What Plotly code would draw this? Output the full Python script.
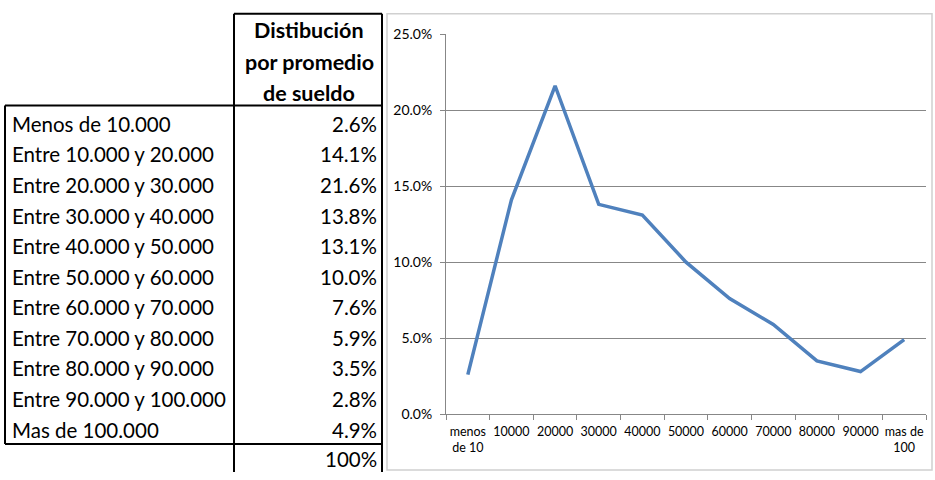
import plotly.graph_objects as go

# ---- data ----
row_labels = ["Menos de 10.000", "Entre 10.000 y 20.000", "Entre 20.000 y 30.000",
              "Entre 30.000 y 40.000", "Entre 40.000 y 50.000", "Entre 50.000 y 60.000",
              "Entre 60.000 y 70.000", "Entre 70.000 y 80.000", "Entre 80.000 y 90.000",
              "Entre 90.000 y 100.000", "Mas de 100.000"]
shares = [0.026, 0.141, 0.216, 0.138, 0.131, 0.100, 0.076, 0.059, 0.035, 0.028, 0.049]
x_labels = ["menos<br>de 10", "10000", "20000", "30000", "40000", "50000",
            "60000", "70000", "80000", "90000", "mas de<br>100"]
header_lines = ["Distibución", "por promedio", "de sueldo"]
total_label = "100%"

W, H = 935, 480
def px(x):
    return x / W
def py(y):
    return 1 - y / H

FAM = "Lato, Carlito, Calibri, sans-serif"

fig = go.Figure()
fig.add_trace(go.Scatter(
    x=x_labels, y=shares, mode="lines",
    line=dict(color="#4F81BD", width=3.5),
    hoverinfo="skip", showlegend=False,
))

TFONT = dict(family=FAM, size=20.5, color="#000000")
HFONT = dict(family=FAM, size=21.5, color="#000000")
ann = []
for i, t in enumerate(header_lines):
    ann.append(dict(x=px(309), y=py(22 + i * 32.5), xref="paper", yref="paper",
                    text="<b>" + t + "</b>", showarrow=False, xanchor="center",
                    yanchor="middle", font=HFONT))
row_h = 31.7
for i, (lab, v) in enumerate(zip(row_labels, shares)):
    yc = 119 + i * row_h
    ann.append(dict(x=px(10), y=py(yc), xref="paper", yref="paper", text=lab,
                    showarrow=False, xanchor="left", yanchor="middle", font=TFONT))
    ann.append(dict(x=px(379), y=py(yc), xref="paper", yref="paper",
                    text=f"{v*100:.1f}%", showarrow=False, xanchor="right",
                    yanchor="middle", font=TFONT))
ann.append(dict(x=px(379), y=py(467), xref="paper", yref="paper", text=total_label,
                showarrow=False, xanchor="right", yanchor="middle", font=TFONT))

shapes = []
def line(x0, y0, x1, y1, color="#000000", width=2):
    shapes.append(dict(type="line", xref="paper", yref="paper",
                       x0=px(x0), y0=py(y0), x1=px(x1), y1=py(y1),
                       line=dict(color=color, width=width)))
shapes.append(dict(type="rect", xref="paper", yref="paper",
                   x0=px(387), y0=py(478), x1=px(932), y1=py(5),
                   line=dict(color="#D0D0D0", width=1.5)))
line(234, 5, 382, 5)
line(234, 5, 234, 480)
line(382, 5, 382, 480)
line(5, 100, 382, 100)
line(5, 100, 5, 451)
line(5, 451, 382, 451)

fig.update_layout(
    width=W, height=H,
    margin=dict(l=0, r=0, t=0, b=0),
    paper_bgcolor="white", plot_bgcolor="white",
    annotations=ann, shapes=shapes,
    xaxis=dict(domain=[px(446), px(926)], type="category", range=[-0.5, 10.5],
               showline=True, linecolor="#878787", linewidth=1,
               ticks="outside", tickson="boundaries", ticklen=5, tickcolor="#878787",
               showgrid=False, tickangle=0, ticklabelstandoff=6,
               tickfont=dict(family=FAM, size=12.5, color="#000"),
               fixedrange=True),
    yaxis=dict(domain=[py(420), py(26)], range=[0, 0.25], dtick=0.05, tickformat=".1%",
               showline=True, linecolor="#878787", linewidth=1,
               ticks="outside", ticklen=5, tickcolor="#878787", ticklabelstandoff=5,
               showgrid=True, gridcolor="#878787", gridwidth=1, zeroline=False,
               tickfont=dict(family=FAM, size=14, color="#000"),
               fixedrange=True),
)

fig.write_html("out.html", config={"displayModeBar": False, "staticPlot": True},
               post_script="var s=document.createElement('style');"
                           "s.textContent='html,body{margin:0;padding:0;width:935px;height:480px;overflow:hidden;}';"
                           "document.head.appendChild(s);"
                           "var gd=document.getElementById('{plot_id}');"
                           "gd.style.position='absolute';gd.style.top='0px';gd.style.left='0px';")
